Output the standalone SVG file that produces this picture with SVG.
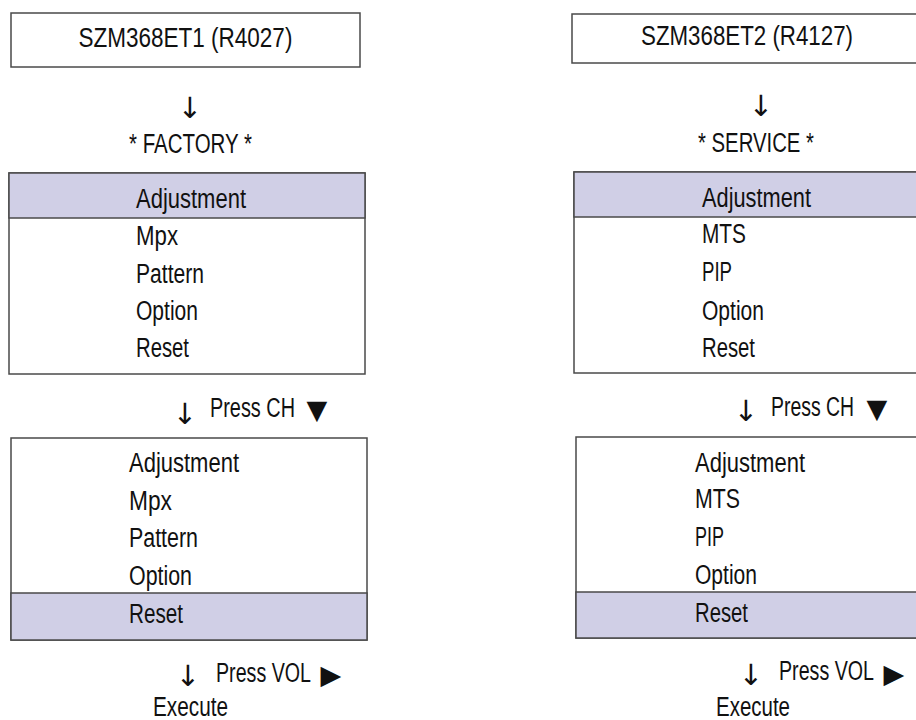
<svg xmlns="http://www.w3.org/2000/svg" width="916" height="720" viewBox="0 0 916 720">
<style>
.box{fill:#ffffff;stroke:#4a4a4a;stroke-width:1.5}
.hl{fill:#d0cfe6;stroke:#4a4a4a;stroke-width:1.5}
text{font-family:"Liberation Sans",Arial,sans-serif;font-size:27px;fill:#111}
.c{text-anchor:middle}
.sym{font-family:"DejaVu Sans",sans-serif;font-size:27px;text-anchor:middle}
.arr{font-family:"DejaVu Sans",sans-serif;font-size:29px;text-anchor:middle}
</style>
<rect width="916" height="720" fill="#ffffff"/>
<g id="title1">
<rect class="box" x="11" y="13" width="349" height="54"/>
<text class="c" x="185.4" y="47" textLength="214" lengthAdjust="spacingAndGlyphs">SZM368ET1 (R4027)</text>
</g>
<g id="title2">
<rect class="box" x="572" y="14" width="360" height="49"/>
<text class="c" x="747" y="45" textLength="212" lengthAdjust="spacingAndGlyphs">SZM368ET2 (R4127)</text>
</g>
<g id="mode1"><text class="c" x="190.5" y="153" textLength="123" lengthAdjust="spacingAndGlyphs">* FACTORY *</text></g>
<g id="mode2"><text class="c" x="756" y="152" textLength="116" lengthAdjust="spacingAndGlyphs">* SERVICE *</text></g>
<g id="menu1">
<rect class="box" x="9" y="173" width="356" height="201"/>
<rect class="hl" x="9" y="173" width="356" height="45"/>
<text x="136" y="208" textLength="110" lengthAdjust="spacingAndGlyphs">Adjustment</text>
<text x="136" y="245" textLength="42" lengthAdjust="spacingAndGlyphs">Mpx</text>
<text x="136" y="283" textLength="68" lengthAdjust="spacingAndGlyphs">Pattern</text>
<text x="136" y="320" textLength="62" lengthAdjust="spacingAndGlyphs">Option</text>
<text x="136" y="357" textLength="53" lengthAdjust="spacingAndGlyphs">Reset</text>
</g>
<g id="menu2">
<rect class="box" x="574" y="172" width="360" height="201"/>
<rect class="hl" x="574" y="172" width="360" height="45"/>
<text x="702" y="207" textLength="109" lengthAdjust="spacingAndGlyphs">Adjustment</text>
<text x="702" y="243" textLength="44" lengthAdjust="spacingAndGlyphs">MTS</text>
<text x="702" y="281" textLength="30" lengthAdjust="spacingAndGlyphs">PIP</text>
<text x="702" y="320" textLength="62" lengthAdjust="spacingAndGlyphs">Option</text>
<text x="702" y="357" textLength="53" lengthAdjust="spacingAndGlyphs">Reset</text>
</g>
<g id="menu3">
<rect class="box" x="11" y="438" width="356" height="202"/>
<rect class="hl" x="11" y="593" width="356" height="47"/>
<text x="129" y="472" textLength="110" lengthAdjust="spacingAndGlyphs">Adjustment</text>
<text x="129" y="510" textLength="43" lengthAdjust="spacingAndGlyphs">Mpx</text>
<text x="129" y="547" textLength="69" lengthAdjust="spacingAndGlyphs">Pattern</text>
<text x="129" y="585" textLength="63" lengthAdjust="spacingAndGlyphs">Option</text>
<text x="129" y="623" textLength="54" lengthAdjust="spacingAndGlyphs">Reset</text>
</g>
<g id="menu4">
<rect class="box" x="576" y="437" width="360" height="201"/>
<rect class="hl" x="576" y="592" width="360" height="46"/>
<text x="695" y="472" textLength="110" lengthAdjust="spacingAndGlyphs">Adjustment</text>
<text x="695" y="508" textLength="45" lengthAdjust="spacingAndGlyphs">MTS</text>
<text x="695" y="546" textLength="29" lengthAdjust="spacingAndGlyphs">PIP</text>
<text x="695" y="584" textLength="62" lengthAdjust="spacingAndGlyphs">Option</text>
<text x="695" y="622" textLength="53" lengthAdjust="spacingAndGlyphs">Reset</text>
</g>
<g id="execute1"><text x="153" y="716" textLength="75" lengthAdjust="spacingAndGlyphs">Execute</text></g>
<g id="execute2"><text x="716" y="716" textLength="74" lengthAdjust="spacingAndGlyphs">Execute</text></g>
<g id="connectors">
<text class="arr" x="190" y="118">↓</text>
<text class="arr" x="761" y="116">↓</text>
<text class="arr" x="185" y="424">↓</text>
<text x="210" y="417" textLength="85" lengthAdjust="spacingAndGlyphs">Press CH</text>
<text class="sym" x="317" y="419">▼</text>
<text class="arr" x="746" y="421">↓</text>
<text x="771" y="416" textLength="83" lengthAdjust="spacingAndGlyphs">Press CH</text>
<text class="sym" x="877" y="418">▼</text>
<text class="arr" x="188" y="686">↓</text>
<text x="216" y="682" textLength="95" lengthAdjust="spacingAndGlyphs">Press VOL</text>
<text class="sym" x="331" y="684">▶</text>
<text class="arr" x="751" y="685">↓</text>
<text x="779" y="680" textLength="95" lengthAdjust="spacingAndGlyphs">Press VOL</text>
<text class="sym" x="894" y="683">▶</text>
</g>
</svg>
